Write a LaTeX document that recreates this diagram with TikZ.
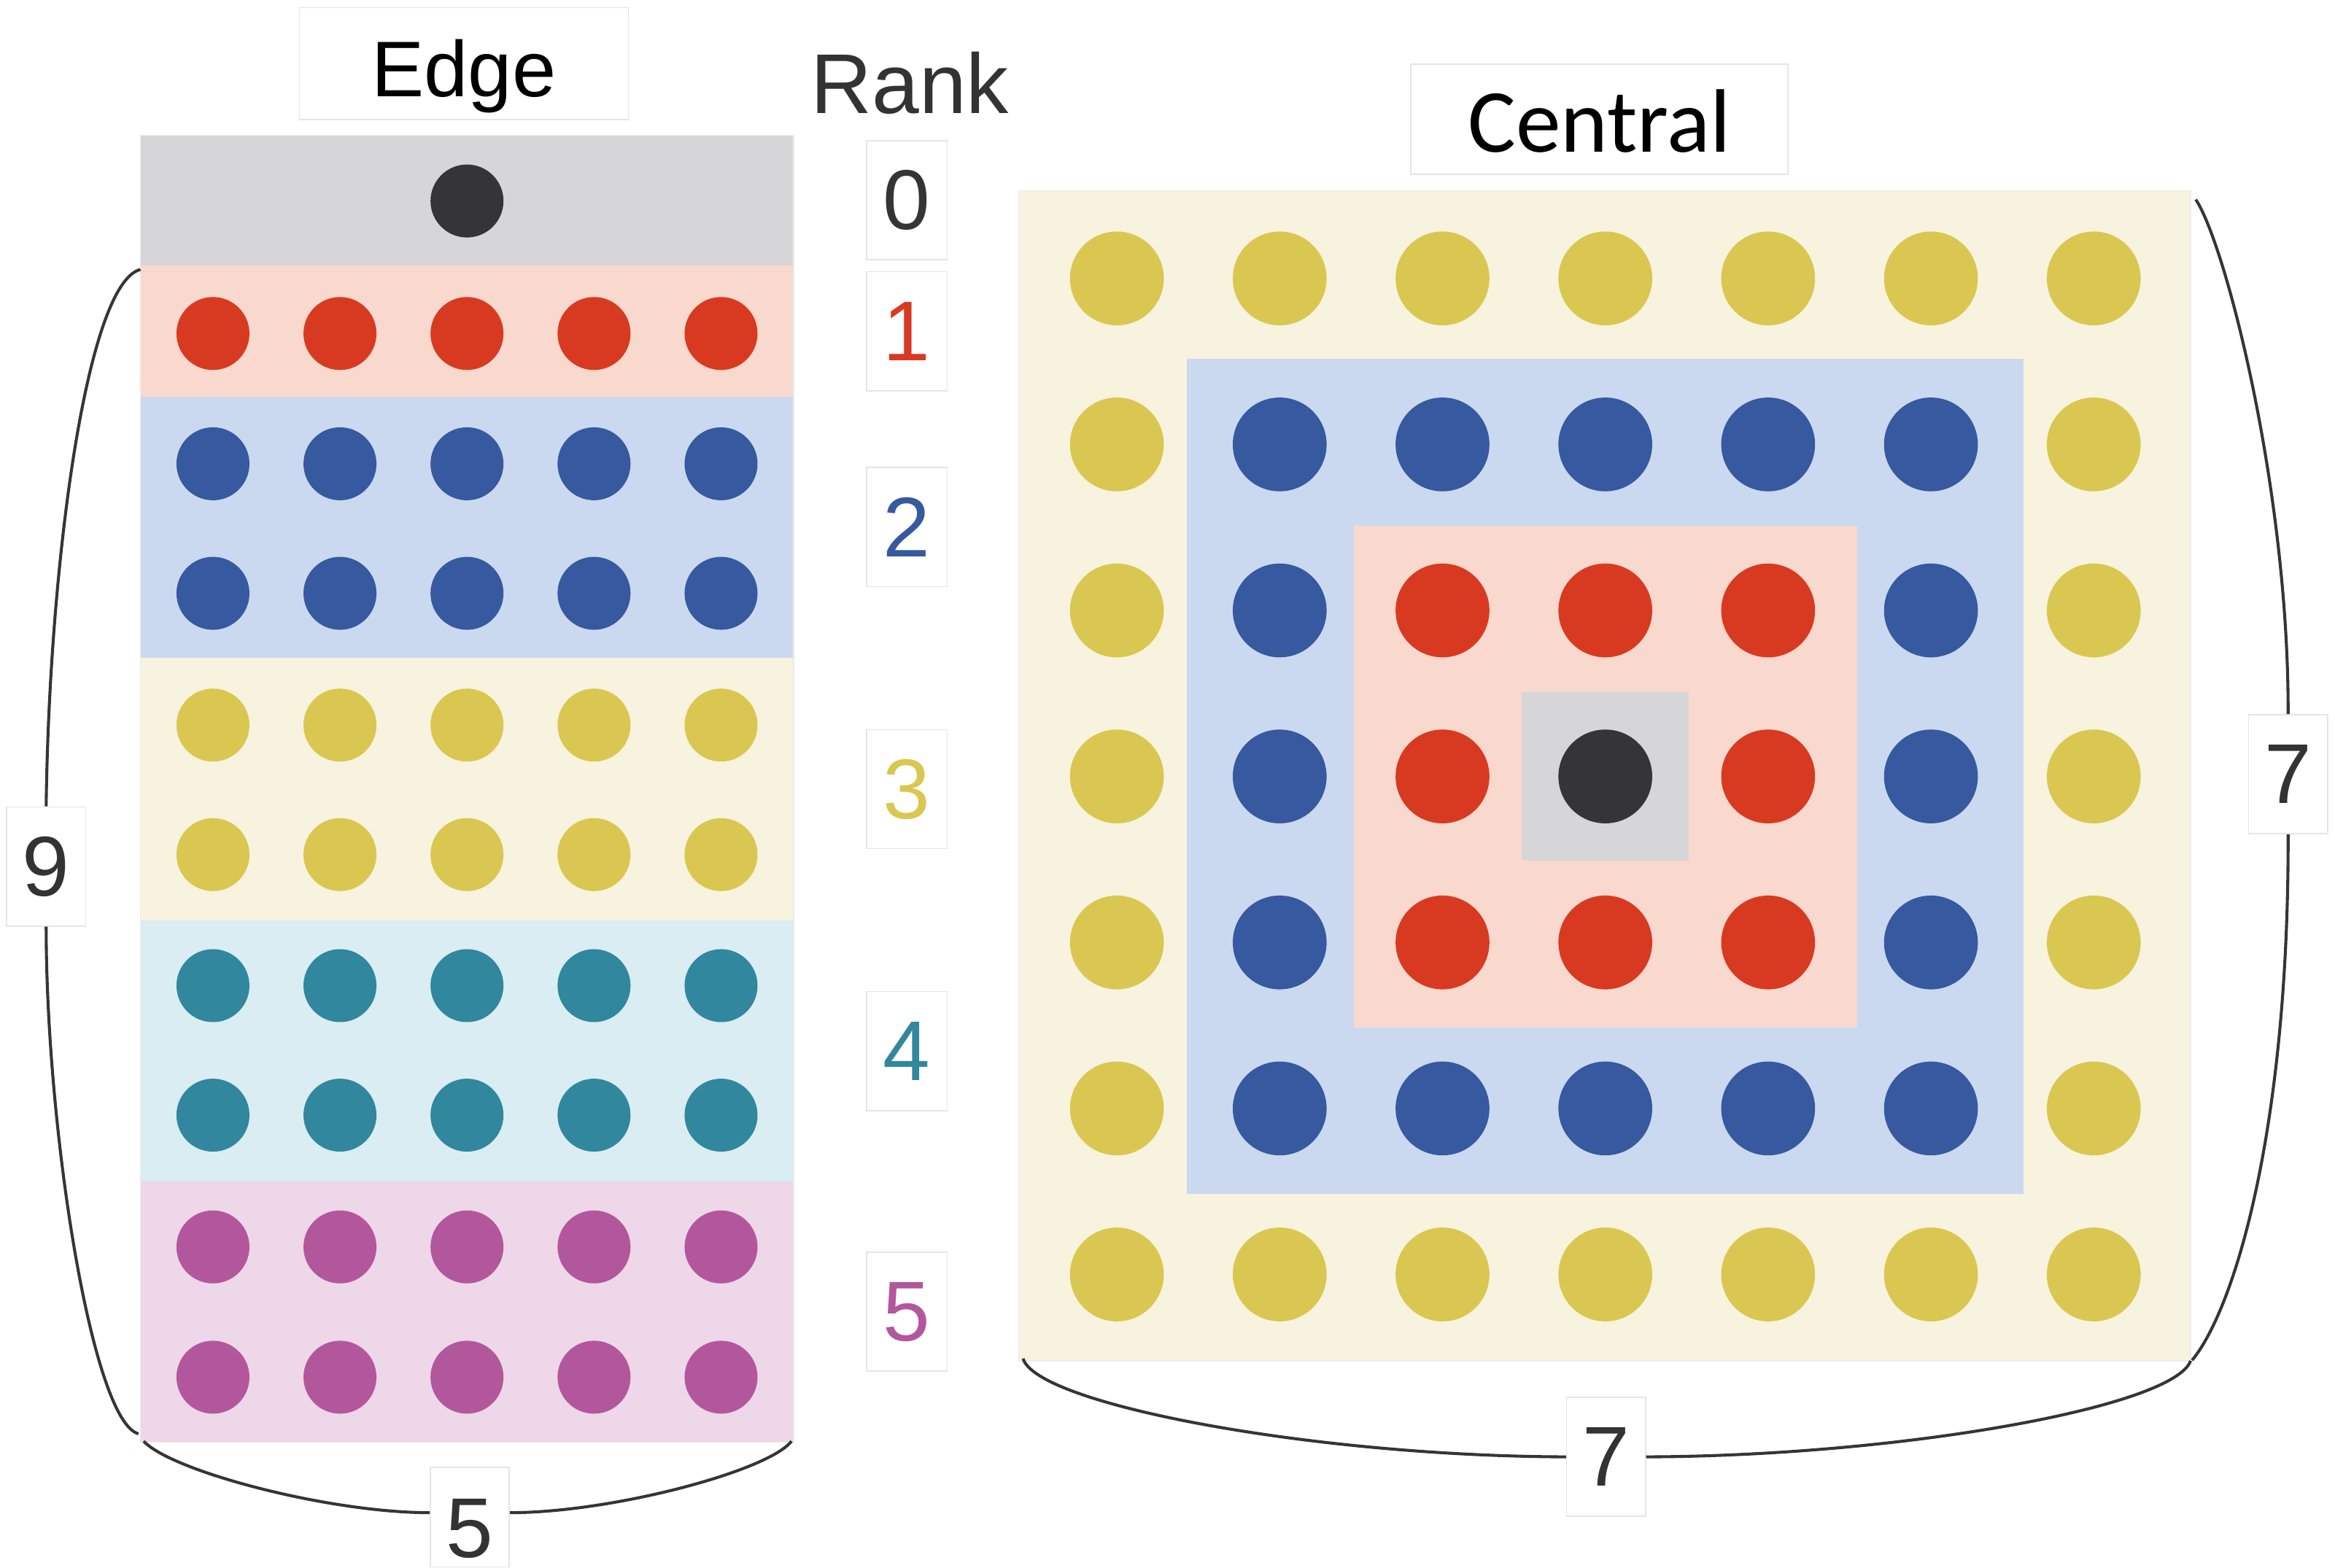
\documentclass[tikz,border=0pt]{standalone}
\usepackage{fontspec}
\setmainfont{Liberation Sans}
\newfontfamily\carlito{Carlito}
\definecolor{cdark}{HTML}{353537}
\definecolor{ctext}{HTML}{333333}
\definecolor{grayBG}{HTML}{D6D6D8}
\definecolor{pinkBG}{HTML}{F9D9CE}
\definecolor{cred}{HTML}{D83A21}
\definecolor{blueBG}{HTML}{CAD9EF}
\definecolor{cblue}{HTML}{36599F}
\definecolor{yellowBG}{HTML}{F8F3DE}
\definecolor{cyellow}{HTML}{D9C751}
\definecolor{tealBG}{HTML}{DAEDF2}
\definecolor{cteal}{HTML}{31879D}
\definecolor{magBG}{HTML}{EED7E8}
\definecolor{cmag}{HTML}{B3579D}
\colorlet{ring0}{cdark}
\colorlet{ring1}{cred}
\colorlet{ring2}{cblue}
\colorlet{ring3}{cyellow}
\begin{document}
\begin{tikzpicture}[x=1pt,y=-1pt,
  lbl/.style={fill=white, draw=black!10, line width=0.8pt, inner sep=0pt},
  num/.style={lbl, minimum width=54pt, minimum height=80pt, font=\fontsize{57}{60}\selectfont},
  brk/.style={draw=cdark, line width=2pt},
  panel/.style={draw=black!8, line width=0.6pt}]

\useasboundingbox (0,0) rectangle (1568,1053);

% ---------- Edge panel ----------
\fill[grayBG]   (94.4,91)    rectangle (533,178.5);
\fill[pinkBG]   (94.4,178.5) rectangle (533,266.5);
\fill[blueBG]   (94.4,266.5) rectangle (533,442);
\fill[yellowBG] (94.4,442)   rectangle (533,618);
\fill[tealBG]   (94.4,618)   rectangle (533,793.5);
\fill[magBG]    (94.4,793.5) rectangle (533,968.5);
\draw[panel] (94.4,91) rectangle (533,968.5);

\fill[cdark] (313.6,135) circle (24.5pt);
\foreach \i in {0,...,4}{
  \pgfmathsetmacro\xx{143+85.3*\i}
  \fill[cred]    (\xx,224)   circle (24.5pt);
  \fill[cblue]   (\xx,311.5) circle (24.5pt);
  \fill[cblue]   (\xx,398.5) circle (24.5pt);
  \fill[cyellow] (\xx,487)   circle (24.5pt);
  \fill[cyellow] (\xx,574)   circle (24.5pt);
  \fill[cteal]   (\xx,662)   circle (24.5pt);
  \fill[cteal]   (\xx,749)   circle (24.5pt);
  \fill[cmag]    (\xx,837.5) circle (24.5pt);
  \fill[cmag]    (\xx,925)   circle (24.5pt);
}

% ---------- Central panel ----------
\fill[yellowBG] (684,128) rectangle (1471,914);
\draw[panel] (684,128) rectangle (1471,914);
\fill[blueBG] (797,241) rectangle (1359,802);
\fill[pinkBG] (909,353) rectangle (1247,690);
\fill[grayBG] (1022,465) rectangle (1134,578);
\foreach \i in {0,...,6}{
  \foreach \j in {0,...,6}{
    \pgfmathtruncatemacro\rr{max(abs(\i-3),abs(\j-3))}
    \fill[ring\rr] ({750+109.33*\i},{187+111.5*\j}) circle (31.5pt);
  }
}

% ---------- Titles ----------
\node[lbl, minimum width=221pt, minimum height=75pt, text height=44.6pt, text depth=0pt,
      font=\fontsize{53}{56}\selectfont, text=black] (edge) at (311.5,42.7) {Edge};
\node[lbl, minimum width=253pt, minimum height=74pt, text height=44pt, text depth=0pt,
      font=\carlito\fontsize{60.5}{62}\selectfont, text=black] (central) at (1074,80) {Central};
\node[anchor=base, inner sep=0pt, text=ctext, font=\fontsize{57}{60}\selectfont] (rank) at (611,76) {Rank};

% ---------- Rank numbers ----------
\node[num, text=cdark]   (r0) at (609,134.5) {0};
\node[num, text=cred]    (r1) at (609,222.5) {1};
\node[num, text=cblue]   (r2) at (609,354)   {2};
\node[num, text=cyellow] (r3) at (609,530)   {3};
\node[num, text=cteal]   (r4) at (609,706)   {4};
\node[num, text=cmag]    (r5) at (609,881)   {5};

% ---------- Dimension labels ----------
\node[num, minimum width=53pt, text=ctext] (n9) at (31,582)      {9};
\node[num, minimum width=53pt, minimum height=67pt, text height=53.8pt, text depth=0pt,
      text=ctext] (n5) at (315.5,1019) {5};
\node[num, minimum width=53pt, text=ctext] (b7) at (1078.5,978.5) {7};
\node[num, minimum width=53pt, text=ctext] (s7) at (1536.5,520)  {7};

% ---------- Bracket end points ----------
\coordinate (l9top) at (94.3,181);
\coordinate (l9bot) at (93,963);
\coordinate (b5l) at (96.5,968);
\coordinate (b5r) at (531.5,968);
\coordinate (s7top) at (1474.5,134);
\coordinate (s7bot) at (1472,913.6);
\coordinate (b7l) at (687,912.5);
\coordinate (b7r) at (1471,914);

% ---------- Brackets ----------
\draw[brk] (l9top) .. controls (58,190) and (33,380) .. (n9.north);
\draw[brk] (n9.south) .. controls (31,760) and (62,955) .. (l9bot);

\draw[brk] (b5l) .. controls (115,988) and (220,1016) .. ([yshift=3pt]n5.west);
\draw[brk] ([yshift=3pt]n5.east) .. controls (411,1016) and (516,988) .. (b5r);

\draw[brk] (s7top) .. controls (1494.5,164) and (1537,330) .. (s7.north);
\draw[brk] (s7.south) .. controls (1537,760) and (1500,880) .. (s7bot);

\draw[brk] (b7l) .. controls (696,943) and (880,978) .. (b7.west);
\draw[brk] (b7.east) .. controls (1276,978) and (1460,945) .. (b7r);
\end{tikzpicture}
\end{document}
